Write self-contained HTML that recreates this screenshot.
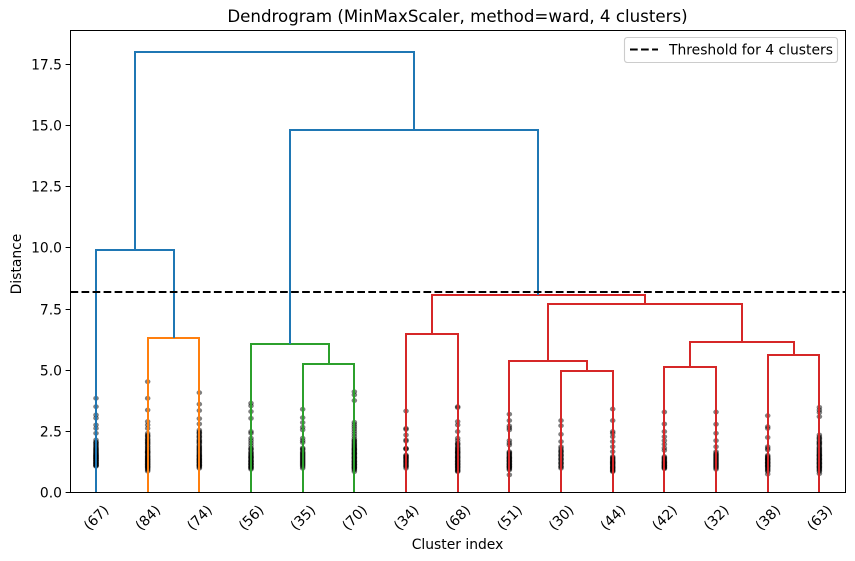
<!DOCTYPE html>
<html lang="en">
<head>
<meta charset="utf-8">
<title>Dendrogram</title>
<style>
html,body{margin:0;padding:0;background:#fff;}
svg{display:block;}
text{font-family:"DejaVu Sans","Liberation Sans",sans-serif;fill:#000;}
</style>
</head>
<body>
<svg id="chart" xmlns="http://www.w3.org/2000/svg" width="855" height="561" viewBox="0 0 855 561">
  <rect x="0" y="0" width="855" height="561" fill="#fff"/>
  <text x="457.5" y="22" font-size="16.67" text-anchor="middle">Dendrogram (MinMaxScaler, method=ward, 4 clusters)</text>
  <g id="marks"></g>
  <g id="threshold"></g>
  <rect x="70.5" y="30.5" width="775" height="462" fill="none" stroke="#000" stroke-width="1"/>
  <g id="yaxis"></g>
  <g id="xaxis"></g>
  <text transform="translate(21,264) rotate(-90)" font-size="13.89" text-anchor="middle">Distance</text>
  <text x="457.5" y="549" font-size="13.89" text-anchor="middle">Cluster index</text>
  <g>
    <rect x="624.5" y="37.5" width="213" height="25" rx="2.8" fill="#fff" fill-opacity="0.8" stroke="#ccc" stroke-width="1.11"/>
    <line x1="630" y1="49.5" x2="658" y2="49.5" stroke="#000" stroke-width="2.08" stroke-dasharray="7.7 3.33"/>
    <text x="669" y="54.5" font-size="13.89">Threshold for 4 clusters</text>
  </g>
</svg>
<script>
const leafLabels = ["(67)","(84)","(74)","(56)","(35)","(70)","(34)","(68)","(51)","(30)","(44)","(42)","(32)","(38)","(63)"];
const yTicks = [0,2.5,5,7.5,10,12.5,15,17.5];
const thresholdValue = 8.17;

// Merges: children are leaf indices (0-14) or "n<k>" pointing to an earlier merge.
const mergeLeft = [1,4,3,6,9,8,11,13,"n6","n5","n3",0,"n2","n11"];
const mergeRight = [2,5,"n1",7,10,"n4",12,14,"n7","n8","n9","n0","n10","n12"];
const mergeHeights = [6.30,5.22,6.05,6.47,4.96,5.37,5.10,5.60,6.13,7.69,8.07,9.90,14.80,18.0];
const mergeGroups = ["orange","green","green","red","red","red","red","red","red","red","red","blue","blue","blue"];

// Contraction marks per leaf.
const leafMarks = [
 [3.83,3.49,3.15,3.02,2.74,2.6,2.4,2.13,2.05,1.98,1.9,1.85,1.78,1.72,1.66,1.6,1.55,1.5,1.45,1.4,1.35,1.3,1.25,1.2,1.15,1.1,1.05,
  2.02,1.93,1.81,1.75,1.69,1.63,1.57,1.52,1.47,1.42,1.37,1.32,1.27,1.22,1.17,1.12,1.07,1.47,1.38,1.28,1.18,1.09],
 [4.51,3.83,3.35,2.88,2.74,2.6,2.4,2.33,2.25,2.18,2.1,2.02,1.95,1.88,1.8,1.72,1.65,1.58,1.5,1.42,1.35,1.28,1.2,1.12,1.05,0.98,0.9,0.85,
  2.29,2.14,2.05,1.97,1.85,1.76,1.68,1.61,1.54,1.46,1.38,1.31,1.24,1.16,1.08,1.01,0.94,1.63,1.44,1.33,1.23,1.14,1.03],
 [4.06,3.59,3.33,3.0,2.78,2.53,2.46,2.38,2.3,2.22,2.14,2.06,1.98,1.9,1.82,1.74,1.66,1.58,1.5,1.42,1.35,1.28,1.2,1.12,1.05,0.97,
  2.42,2.26,2.1,2.02,1.86,1.78,1.62,1.54,1.46,1.38,1.31,1.24,1.16,1.08,1.01,1.71,1.47,1.33,1.22,1.1],
 [3.63,3.52,3.29,3.01,2.47,2.4,2.2,2.1,2.0,1.9,1.8,1.72,1.64,1.56,1.48,1.4,1.32,1.24,1.16,1.08,1.0,0.93,
  1.76,1.6,1.52,1.44,1.36,1.28,1.2,1.12,1.04,0.97,1.42,1.26,1.14,1.02],
 [3.38,3.04,2.84,2.65,2.54,2.2,2.1,2.02,1.8,1.72,1.64,1.56,1.48,1.4,1.32,1.24,1.16,1.08,0.97,
  1.76,1.6,1.52,1.44,1.36,1.28,1.2,1.12,1.03],
 [4.1,3.97,3.74,2.85,2.76,2.67,2.58,2.48,2.38,2.28,2.18,2.08,1.98,1.9,1.82,1.74,1.66,1.58,1.5,1.42,1.34,1.26,1.18,1.1,1.02,0.94,0.83,
  2.12,2.03,1.94,1.86,1.78,1.7,1.62,1.54,1.46,1.38,1.3,1.22,1.14,1.06,0.98,0.9,1.75,1.57,1.4,1.24,1.12,1.0],
 [3.31,2.6,2.56,2.33,2.13,2.08,1.79,1.75,1.51,1.45,1.39,1.32,1.25,1.18,1.1,1.03,0.97,1.48,1.36,1.22,1.14,1.06,1.77,1.42,1.28],
 [3.49,3.45,2.88,2.74,2.47,2.2,2.1,2.0,1.92,1.84,1.76,1.68,1.6,1.52,1.44,1.36,1.28,1.2,1.12,1.04,0.96,0.88,0.83,
  1.96,1.8,1.72,1.64,1.56,1.48,1.4,1.32,1.24,1.16,1.08,1.0,0.92,0.86,1.62,1.42,1.26,1.14,1.02],
 [3.18,2.92,2.7,2.62,2.54,2.1,2.0,1.92,1.65,1.58,1.5,1.42,1.35,1.28,1.2,1.12,1.05,0.98,0.9,0.7,
  1.61,1.54,1.46,1.38,1.31,1.24,1.16,1.08,1.01,0.94,1.4,1.26,1.14,1.03],
 [2.92,2.71,2.36,2.06,1.85,1.78,1.7,1.62,1.54,1.46,1.38,1.3,1.22,1.14,1.06,0.97,1.66,1.5,1.34,1.18,1.02],
 [3.39,2.92,2.47,2.4,2.26,2.06,1.85,1.65,1.45,1.38,1.3,1.23,1.16,1.09,1.02,0.95,0.88,0.83,
  1.41,1.34,1.26,1.19,1.12,1.05,0.98,0.91,0.86,1.2,1.0],
 [3.27,2.78,2.47,2.26,2.1,1.95,1.8,1.7,1.45,1.38,1.3,1.23,1.16,1.09,1.02,0.95,1.41,1.34,1.26,1.19,1.12,1.05,0.98,1.2,1.08,1.0],
 [3.27,2.77,2.4,2.1,1.85,1.65,1.58,1.5,1.42,1.34,1.26,1.18,1.1,1.02,0.93,1.54,1.46,1.38,1.3,1.22,1.14,1.06,0.98],
 [3.12,2.67,2.6,2.23,1.85,1.78,1.72,1.5,1.43,1.36,1.29,1.22,1.15,1.08,1.0,0.92,0.84,0.73,
  1.46,1.39,1.32,1.25,1.18,1.11,1.04,0.96,0.88,1.34,1.2,1.06],
 [3.46,3.35,3.25,3.08,2.33,2.25,2.16,2.08,2.0,1.92,1.84,1.76,1.68,1.6,1.52,1.44,1.36,1.28,1.2,1.12,1.04,0.96,0.88,0.75,
  2.2,2.04,1.96,1.8,1.72,1.64,1.56,1.48,1.4,1.32,1.24,1.16,1.08,1.0,0.92,0.84,1.5,1.34,1.18,1.02]
];

const palette = {blue:"#1f77b4",orange:"#ff7f0e",green:"#2ca02c",red:"#d62728"};
const NS = "http://www.w3.org/2000/svg";
function xScale(leaf){ return 96 + 51.67*leaf; }
function yScale(v){ return 492 - 24.46*v; }
function make(tag, attrs, parent){
  const el = document.createElementNS(NS, tag);
  for (const k in attrs) el.setAttribute(k, attrs[k]);
  parent.appendChild(el);
  return el;
}
const marksG = document.getElementById("marks");
const yG = document.getElementById("yaxis");
const xG = document.getElementById("xaxis");
const thG = document.getElementById("threshold");

// contraction marks
leafMarks.forEach(function(vals, i){
  vals.forEach(function(v){
    const dot = make("ellipse",{cx:xScale(i),cy:yScale(v),rx:2.8,ry:2.4,fill:"#000","fill-opacity":0.5},marksG);
    
    
  });
});

// links
const nodes = [];
function resolve(c){
  if (typeof c === "number") return {x:xScale(c), y:yScale(0)};
  return nodes[+c.slice(1)];
}
mergeHeights.forEach(function(h, i){
  const a = resolve(mergeLeft[i]);
  const b = resolve(mergeRight[i]);
  const y = yScale(h);
  const d = "M"+Math.round(a.x)+" "+Math.round(a.y)+"V"+Math.round(y)+"H"+Math.round(b.x)+"V"+Math.round(b.y);
  const link = make("path",{d:d,fill:"none",stroke:palette[mergeGroups[i]],"stroke-width":2,"stroke-linejoin":"miter"},marksG);
  
  
  nodes.push({x:(a.x+b.x)/2, y:y});
});

// threshold
const thY = Math.round(yScale(thresholdValue));
const th = make("line",{x1:70.5,x2:845.5,y1:thY,y2:thY,stroke:"#000","stroke-width":2,"stroke-dasharray":"7.7 3.33"},thG);



// y axis
yTicks.forEach(function(t){
  const y = yScale(t);
  const ty = Math.round(y)+0.5;
  const tick = make("line",{x1:65.6,x2:70,y1:ty,y2:ty,stroke:"#000","stroke-width":1},yG);
  
  
  const label = make("text",{x:62,y:Math.round(y)+5.5,"font-size":13.89,"text-anchor":"end"},yG);
  
  
  label.textContent = t.toFixed(1);
});

// x axis labels
leafLabels.forEach(function(s, i){
  const cx = xScale(i), cy = 517.5;
  const label = make("text",{transform:"translate("+cx+","+cy+") rotate(-45)",y:5,"font-size":13.89,"text-anchor":"middle"},xG);
  
  
  label.textContent = s;
});
</script>
</body>
</html>
